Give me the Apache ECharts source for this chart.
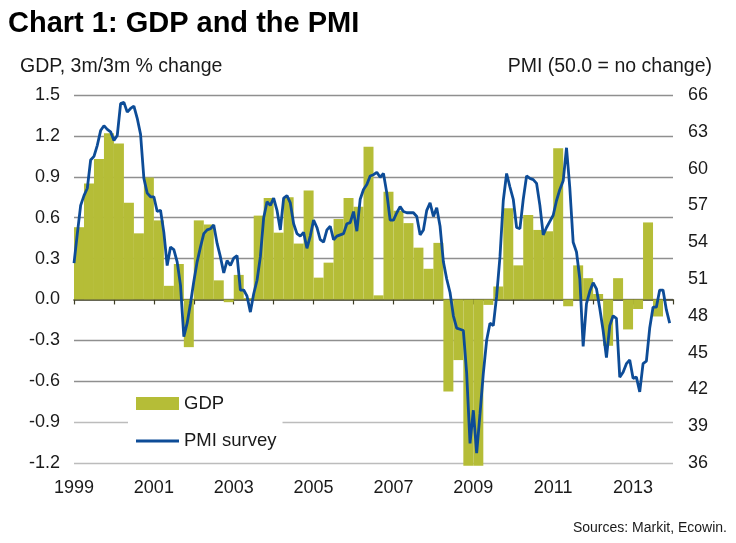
<!DOCTYPE html>
<html>
<head>
<meta charset="utf-8">
<script src="https://cdn.jsdelivr.net/npm/echarts@6/dist/echarts.min.js"></script>
<style>
html,body{margin:0;padding:0;background:#fff;}
#chart{width:736px;height:543px;}
</style>
</head>
<body>
<div id="chart"></div>
<script>
// ---- Data ----
var startYear = 1999;
var endYear = 2014;
var xTickLabels = ['1999','2001','2003','2005','2007','2009','2011','2013'];

// GDP, 3m/3m % change, quarterly (Q1..Q4 per year)
var gdp1999 = [0.53, 0.85, 1.03, 1.22];
var gdp2000 = [1.145, 0.71, 0.485, 0.895];
var gdp2001 = [0.58, 0.10, 0.26, -0.35];
var gdp2002 = [0.58, 0.55, 0.14, -0.02];
var gdp2003 = [0.18, 0.01, 0.615, 0.745];
var gdp2004 = [0.49, 0.75, 0.41, 0.80];
var gdp2005 = [0.16, 0.27, 0.59, 0.745];
var gdp2006 = [0.68, 1.12, 0.03, 0.79];
var gdp2007 = [0.65, 0.56, 0.38, 0.225];
var gdp2008 = [0.415, -0.675, -0.445, -1.22];
var gdp2009 = [-1.22, -0.04, 0.095, 0.67];
var gdp2010 = [0.25, 0.62, 0.51, 0.50];
var gdp2011 = [1.11, -0.05, 0.25, 0.156];
var gdp2012 = [0.04, -0.34, 0.156, -0.22];
var gdp2013 = [-0.07, 0.565, -0.125, null];

// PMI survey, monthly (Jan..Dec per year)
var pmi1999 = [52.3, 54.7, 57.0, 57.8, 58.4, 60.7, 61.0, 61.9, 63.1, 63.5, 63.2, 63.0];
var pmi2000 = [62.3, 62.7, 65.3, 65.4, 64.6, 64.9, 65.1, 64.1, 62.8, 59.2, 58.0, 57.7];
var pmi2001 = [57.7, 56.5, 56.6, 54.8, 52.1, 53.6, 53.4, 52.4, 50.5, 46.3, 47.4, 49.0];
var pmi2002 = [50.8, 52.4, 53.6, 54.7, 55.0, 55.1, 55.4, 53.9, 52.8, 51.5, 52.5, 52.1];
var pmi2003 = [52.7, 52.9, 50.1, 50.1, 49.6, 48.3, 49.8, 50.9, 52.8, 56.0, 57.3, 57.0];
var pmi2004 = [57.6, 56.6, 55.0, 57.6, 57.8, 57.2, 55.5, 54.7, 54.5, 54.8, 53.5, 54.5];
var pmi2005 = [55.8, 55.2, 54.2, 54.0, 55.0, 55.3, 54.2, 54.5, 54.6, 54.7, 55.5, 55.6];
var pmi2006 = [56.5, 54.9, 57.5, 58.3, 58.7, 59.4, 59.5, 59.7, 59.3, 59.6, 58.0, 55.8];
var pmi2007 = [55.8, 56.4, 56.9, 56.5, 56.4, 56.4, 56.4, 56.1, 54.6, 55.0, 56.6, 57.2];
var pmi2008 = [56.1, 56.8, 55.3, 52.4, 51.0, 49.9, 48.0, 47.0, 46.9, 46.8, 43.3, 37.6];
var pmi2009 = [40.3, 36.8, 40.0, 43.3, 46.0, 47.4, 47.2, 49.6, 52.8, 57.4, 59.6, 58.5];
var pmi2010 = [57.5, 55.2, 55.1, 57.5, 59.4, 59.2, 59.1, 58.8, 57.0, 54.6, 55.2, 55.7];
var pmi2011 = [56.2, 57.4, 58.3, 59.0, 61.7, 58.4, 54.0, 53.2, 51.0, 45.5, 49.0, 50.0];
var pmi2012 = [50.7, 50.2, 48.6, 46.8, 44.6, 47.2, 48.0, 47.8, 43.0, 43.4, 44.1, 44.4];
var pmi2013 = [42.9, 43.0, 41.8, 44.1, 44.3, 47.0, 48.7, 48.7, 50.1, 50.1, 48.5, 47.4];

// ---- Build series ----
var gdpYears = [gdp1999,gdp2000,gdp2001,gdp2002,gdp2003,gdp2004,gdp2005,gdp2006,gdp2007,gdp2008,gdp2009,gdp2010,gdp2011,gdp2012,gdp2013];
var pmiYears = [pmi1999,pmi2000,pmi2001,pmi2002,pmi2003,pmi2004,pmi2005,pmi2006,pmi2007,pmi2008,pmi2009,pmi2010,pmi2011,pmi2012,pmi2013];

var quarterCats = [], gdpData = [];
gdpYears.forEach(function(arr, yi){
  arr.forEach(function(v, qi){
    quarterCats.push((startYear + yi) + ' Q' + (qi + 1));
    gdpData.push(v);
  });
});
var pmiData = [];
pmiYears.forEach(function(arr, yi){
  arr.forEach(function(v, mi){
    pmiData.push([startYear + yi + mi / 12, v]);
  });
});

var FONT = '"Liberation Sans", Arial, sans-serif';
var TXT = '#1a1a1a';
var BLUE = '#0d4c97';
var gridColors = ['#bcbcbc','#bcbcbc','#8f8f8f','#8f8f8f','#8f8f8f','#8f8f8f','#8f8f8f','#8f8f8f','#8f8f8f','#8f8f8f'];

var chart = echarts.init(document.getElementById('chart'), null, {renderer: 'canvas'});
chart.setOption({
  animation: false,
  backgroundColor: '#ffffff',
  textStyle: {fontFamily: FONT},
  title: [
    {text: 'Chart 1: GDP and the PMI', left: 3, top: 4,
     textStyle: {fontFamily: FONT, fontSize: 29, fontWeight: 'bold', color: '#000'}},
    {text: 'GDP, 3m/3m % change', left: 15, top: 52,
     textStyle: {fontFamily: FONT, fontSize: 19.5, fontWeight: 'normal', color: TXT}},
    {text: 'PMI (50.0 = no change)', right: 19, top: 52,
     textStyle: {fontFamily: FONT, fontSize: 19.5, fontWeight: 'normal', color: TXT}},
    {text: 'Sources: Markit, Ecowin.', right: 4, top: 516,
     textStyle: {fontFamily: FONT, fontSize: 14, fontWeight: 'normal', color: TXT}}
  ],
  legend: {
    orient: 'vertical',
    left: 128, top: 384,
    padding: [10, 6, 10, 8],
    backgroundColor: '#ffffff',
    itemWidth: 43, itemHeight: 13, itemGap: 18.5,
    textStyle: {fontFamily: FONT, fontSize: 18.5, color: TXT},
    data: [{name: 'GDP', icon: 'rect'},
           {name: 'PMI survey', icon: 'path://M0 0H43V2.8H0Z'}]
  },
  grid: {left: 74, right: 63, top: 95, bottom: 80, containLabel: false},
  xAxis: [
    {type: 'value', min: startYear, max: endYear, interval: 1, position: 'bottom',
     axisLine: {show: true, onZero: true, onZeroAxisIndex: 0, lineStyle: {color: '#3e3e26', width: 1.6}},
     axisTick: {show: true, length: 5, lineStyle: {color: '#3e3e26', width: 1.2}},
     axisLabel: {show: false}, splitLine: {show: false}},
    {type: 'value', min: startYear, max: endYear, interval: 1, position: 'bottom',
     axisLine: {show: false, onZero: false}, axisTick: {show: false}, splitLine: {show: false},
     axisLabel: {show: true, margin: 16, fontFamily: FONT, fontSize: 18, color: TXT,
       formatter: function(v){ var s = String(Math.round(v)); return xTickLabels.indexOf(s) >= 0 ? s : ''; }}},
    {type: 'category', data: quarterCats, boundaryGap: true, show: false,
     axisLine: {onZero: false}}
  ],
  yAxis: [
    {type: 'value', min: -1.2, max: 1.5, interval: 0.3, position: 'left',
     axisLine: {show: false}, axisTick: {show: false},
     axisLabel: {margin: 14, fontFamily: FONT, fontSize: 18, color: TXT,
       formatter: function(v){ return (Math.abs(v) < 1e-9 ? 0 : v).toFixed(1); }},
     splitLine: {show: true, lineStyle: {color: gridColors, width: 1.3}}},
    {type: 'value', min: 36, max: 66, interval: 3, position: 'right',
     axisLine: {show: false}, axisTick: {show: false},
     axisLabel: {margin: 15, fontFamily: FONT, fontSize: 18, color: TXT},
     splitLine: {show: false}}
  ],
  series: [
    {name: 'GDP', type: 'bar', xAxisIndex: 2, yAxisIndex: 0, data: gdpData,
     barCategoryGap: '0%', barGap: '0%', clip: false,
     itemStyle: {color: '#b5bd37'}, z: 2},
    {name: 'PMI survey', type: 'line', xAxisIndex: 0, yAxisIndex: 1, data: pmiData,
     showSymbol: false, symbol: 'none', clip: false,
     lineStyle: {color: BLUE, width: 2.8}, itemStyle: {color: BLUE}, z: 3}
  ]
});
</script>
</body>
</html>
